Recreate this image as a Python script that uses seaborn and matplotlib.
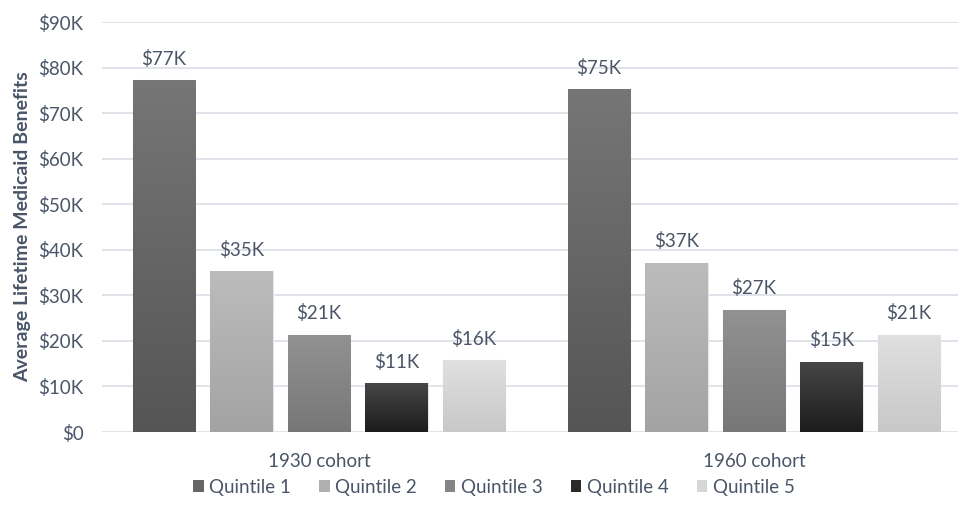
import numpy as np
import pandas as pd
import matplotlib
matplotlib.use("Agg")
import matplotlib.pyplot as plt
import seaborn as sns
from matplotlib.patches import Patch

cohorts = ["1930 cohort", "1960 cohort"]
quintiles = ["Quintile 1", "Quintile 2", "Quintile 3", "Quintile 4", "Quintile 5"]
values_1930 = [77200, 35300, 21300, 10700, 15800]
values_1960 = [75200, 37100, 26800, 15400, 21300]
yticks = [0, 10000, 20000, 30000, 40000, 50000, 60000, 70000, 80000, 90000]
ytick_labels = ["$0", "$10K", "$20K", "$30K", "$40K", "$50K", "$60K", "$70K", "$80K", "$90K"]
colors = ["#666666", "#b0b0b0", "#858585", "#2a2a2a", "#d6d6d6"]
grad_top = ["#767676", "#bcbcbc", "#929292", "#474747", "#e0e0e0"]
grad_bot = ["#555555", "#a3a3a3", "#777777", "#1c1c1c", "#c8c8c8"]

rows = []
for c, vals in zip(cohorts, [values_1930, values_1960]):
    for q, v in zip(quintiles, vals):
        rows.append({"cohort": c, "quintile": q, "value": v})
df = pd.DataFrame(rows)

sns.set_theme(style="white")
plt.rcParams["font.family"] = ["Lato", "DejaVu Sans"]
text_color = "#4a5568"
fs = 13.5

fig = plt.figure(figsize=(9.6, 5.14), dpi=100)
ax = fig.add_axes([101.5 / 960, 82 / 514, (958 - 101.5) / 960, 410 / 514])

sns.barplot(data=df, x="cohort", y="value", hue="quintile", order=cohorts,
            hue_order=quintiles, palette=colors, width=0.891, gap=0.19,
            ax=ax, legend=False, edgecolor="#e6e6e6", linewidth=0.8, saturation=1)

ax.set_ylim(0, 90000)
ax.set_xlim(-0.5, 1.469)
ax.set_yticks(yticks)
ax.set_yticklabels(ytick_labels)
ax.yaxis.grid(True, color="#dde1e8", linewidth=1.3)
ax.set_axisbelow(True)
for s in ax.spines.values():
    s.set_visible(False)
ax.tick_params(axis="y", length=0, pad=13, labelsize=fs, labelcolor=text_color)
ax.tick_params(axis="x", length=0, pad=15, labelsize=fs, labelcolor=text_color)
ax.set_xlabel("")
ax.set_ylabel("Average Lifetime Medicaid Benefits", fontsize=14, fontweight="bold",
              color=text_color, labelpad=5)

for i, p in enumerate(ax.patches):
    qi = i // len(cohorts)
    x0, y0 = p.get_x(), p.get_y()
    w, h = p.get_width(), p.get_height()
    top = np.array(matplotlib.colors.to_rgb(grad_top[qi]))
    bot = np.array(matplotlib.colors.to_rgb(grad_bot[qi]))
    t = np.linspace(0, 1, 256)[:, None]
    grad = (top * (1 - t) + bot * t)[:, None, :]
    im = ax.imshow(grad, extent=[x0, x0 + w, y0, y0 + h], aspect="auto",
                   origin="upper", zorder=p.get_zorder())
    im.set_clip_path(p)
    ax.annotate(f"${h/1000:.0f}K", (x0 + w / 2, y0 + h), xytext=(0, 9),
                textcoords="offset points", ha="center", va="bottom",
                fontsize=fs, color=text_color)
ax.set_xlim(-0.5, 1.469)
ax.set_ylim(0, 90000)

handles = [Patch(facecolor=c, edgecolor="none") for c in colors]
leg = fig.legend(handles, quintiles, loc="center", bbox_to_anchor=(494 / 960, 1 - 487 / 514),
                 ncol=5, frameon=False, fontsize=fs, handlelength=0.55, handleheight=0.55,
                 handletextpad=0.3, columnspacing=1.5)
for t in leg.get_texts():
    t.set_color(text_color)

fig.savefig("out.png", dpi=100)
